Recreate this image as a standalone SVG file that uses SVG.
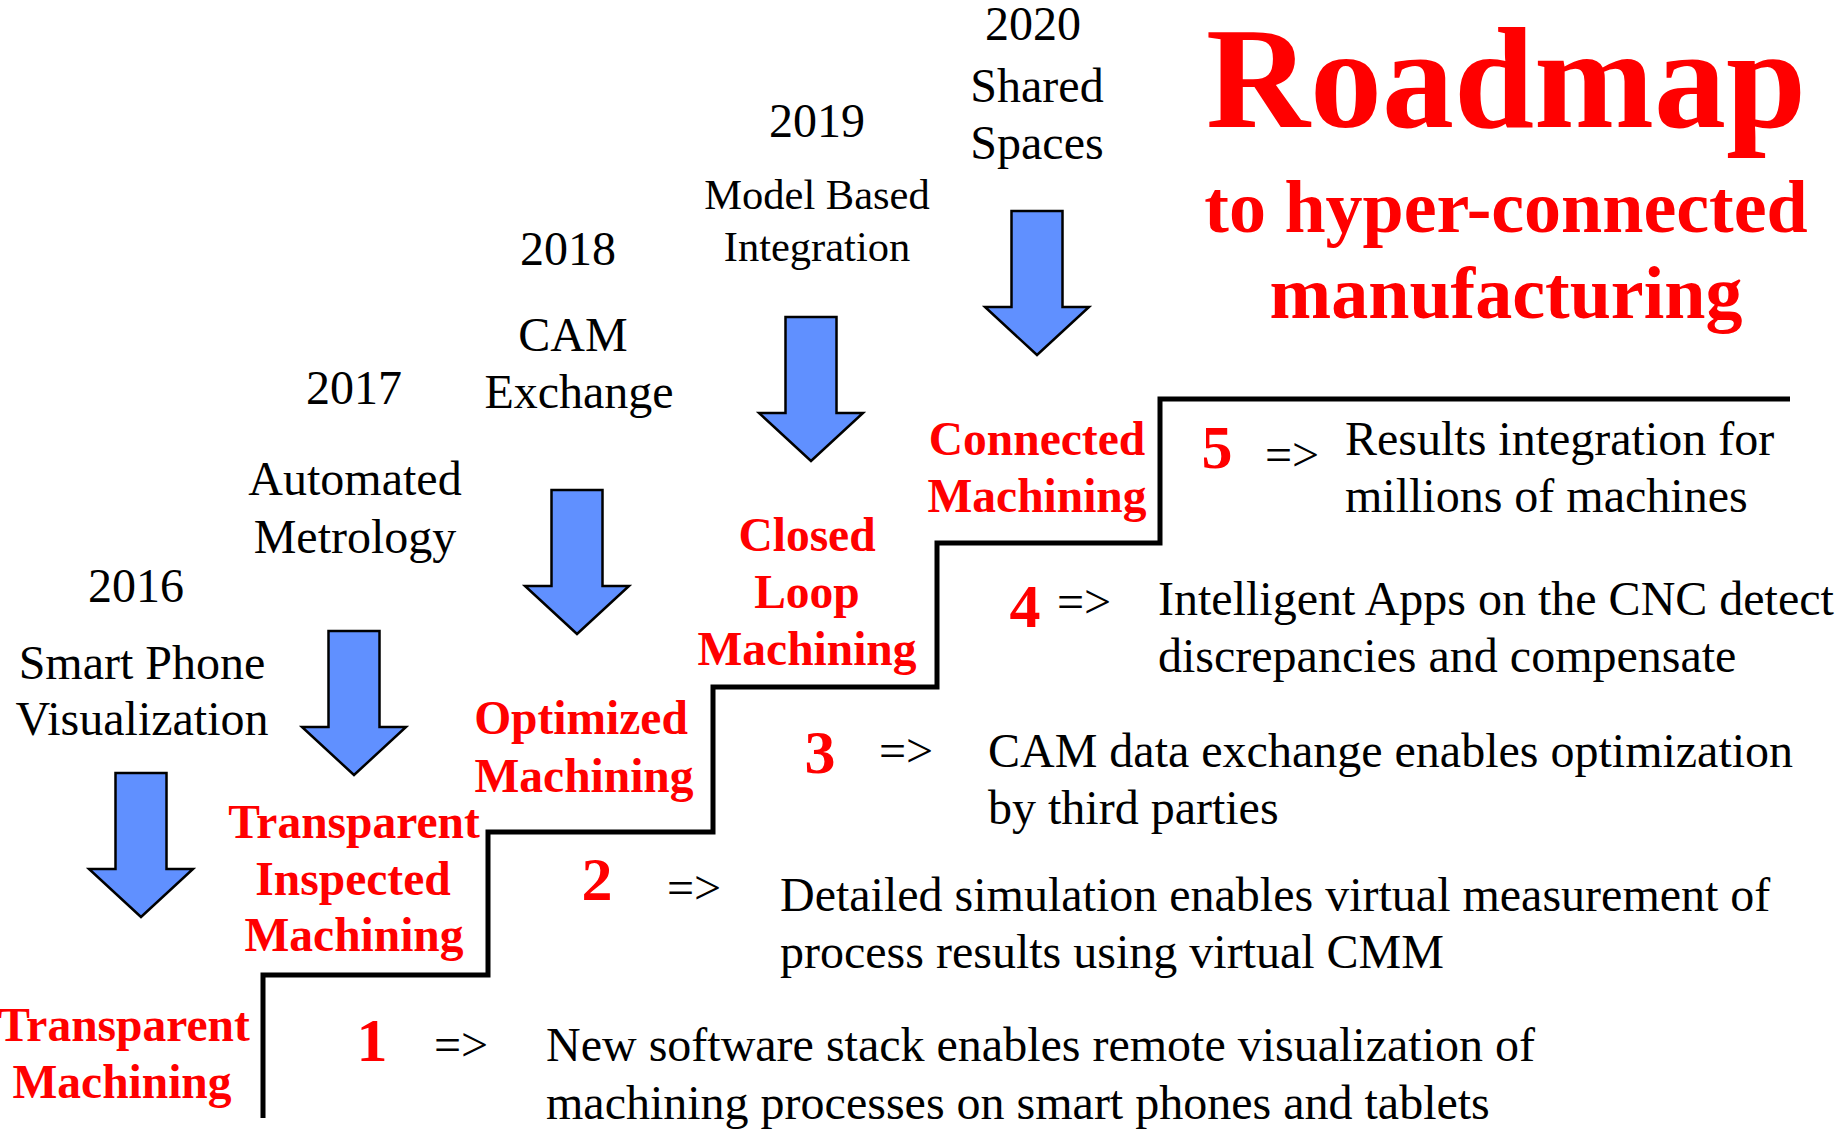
<svg xmlns="http://www.w3.org/2000/svg" width="1845" height="1132" viewBox="0 0 1845 1132">
<defs>
<style>
.t{font-family:"Liberation Serif","Times New Roman",serif;fill:#000;font-size:48px}
.tm{text-anchor:middle}
.sm{font-size:42.5px}
.r{font-family:"Liberation Serif","Times New Roman",serif;fill:#FF0000;font-weight:bold;font-size:47.5px;text-anchor:middle}
.n{font-family:"Liberation Serif","Times New Roman",serif;fill:#FF0000;font-weight:bold;font-size:62px;text-anchor:middle}
.arr{fill:#6090FF;stroke:#000;stroke-width:2.5;stroke-linejoin:miter}
.stair{fill:none;stroke:#000;stroke-width:5;stroke-linejoin:miter}
</style>
<path id="arrow" d="M-25.5,0 H25.5 V96 H52 L0,144 L-52,96 H-25.5 Z"/>
</defs>
<rect width="1845" height="1132" fill="#fff"/>

<g id="title">
<text class="r" x="1506" y="127" style="font-size:144px">Roadmap</text>
<text class="r" x="1506" y="232" style="font-size:74px">to hyper-connected</text>
<text class="r" x="1506" y="318" style="font-size:74px">manufacturing</text>
</g>

<g id="connectors">
<path class="stair" d="M263,1118 V975 H488 V832 H713 V687 H937 V543 H1160 V399 H1790"/>
<use href="#arrow" class="arr" x="141" y="773"/>
<use href="#arrow" class="arr" x="354" y="631"/>
<use href="#arrow" class="arr" x="577" y="490"/>
<use href="#arrow" class="arr" x="811" y="317"/>
<use href="#arrow" class="arr" x="1037" y="211"/>
</g>

<g id="year-2016">
<text class="t tm" x="136" y="602">2016</text>
<text class="t tm" x="142" y="679">Smart Phone</text>
<text class="t tm" x="142" y="735">Visualization</text>
</g>
<g id="year-2017">
<text class="t tm" x="354" y="404">2017</text>
<text class="t tm" x="355" y="495">Automated</text>
<text class="t tm" x="355" y="553">Metrology</text>
</g>
<g id="year-2018">
<text class="t tm" x="568" y="265">2018</text>
<text class="t tm" x="573" y="351">CAM</text>
<text class="t tm" x="579" y="408">Exchange</text>
</g>
<g id="year-2019">
<text class="t tm" x="817" y="137">2019</text>
<text class="t tm sm" x="817" y="209">Model Based</text>
<text class="t tm sm" x="817" y="261">Integration</text>
</g>
<g id="year-2020">
<text class="t tm" x="1033" y="40">2020</text>
<text class="t tm" x="1037" y="102">Shared</text>
<text class="t tm" x="1037" y="159">Spaces</text>
</g>

<g id="step-1">
<text class="r" x="124" y="1041">Transparent</text>
<text class="r" x="122" y="1098">Machining</text>
<text class="n" x="372" y="1061">1</text>
<text class="t" x="434" y="1061">=&gt;</text>
<text class="t" x="546" y="1061">New software stack enables remote visualization of</text>
<text class="t" x="546" y="1119">machining processes on smart phones and tablets</text>
</g>
<g id="step-2">
<text class="r" x="354" y="838">Transparent</text>
<text class="r" x="353" y="895">Inspected</text>
<text class="r" x="354" y="951">Machining</text>
<text class="n" x="597" y="900">2</text>
<text class="t" x="667" y="904">=&gt;</text>
<text class="t" x="780" y="911">Detailed simulation enables virtual measurement of</text>
<text class="t" x="780" y="968">process results using virtual CMM</text>
</g>
<g id="step-3">
<text class="r" x="581" y="734">Optimized</text>
<text class="r" x="584" y="792">Machining</text>
<text class="n" x="820" y="773">3</text>
<text class="t" x="879" y="767">=&gt;</text>
<text class="t" x="988" y="767">CAM data exchange enables optimization</text>
<text class="t" x="988" y="824">by third parties</text>
</g>
<g id="step-4">
<text class="r" x="807" y="551">Closed</text>
<text class="r" x="807" y="608">Loop</text>
<text class="r" x="807" y="665">Machining</text>
<text class="n" x="1025" y="627">4</text>
<text class="t" x="1057" y="618">=&gt;</text>
<text class="t" x="1158" y="615">Intelligent Apps on the CNC detect</text>
<text class="t" x="1158" y="672">discrepancies and compensate</text>
</g>
<g id="step-5">
<text class="r" x="1037" y="455">Connected</text>
<text class="r" x="1037" y="512">Machining</text>
<text class="n" x="1217" y="468">5</text>
<text class="t" x="1265" y="471">=&gt;</text>
<text class="t" x="1345" y="455">Results integration for</text>
<text class="t" x="1345" y="512">millions of machines</text>
</g>
</svg>
